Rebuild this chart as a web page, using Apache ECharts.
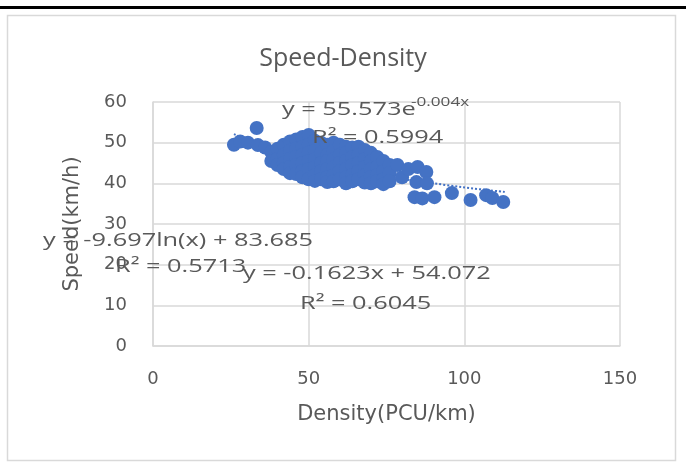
<!DOCTYPE html>
<html>
<head>
<meta charset="utf-8">
<script src="https://cdn.jsdelivr.net/npm/echarts@6/dist/echarts.min.js"></script>
<style>
  html, body { margin: 0; padding: 0; background: #fff; }
  #chart { width: 686px; height: 462px; }
</style>
</head>
<body>
<div id="chart"></div>
<script>
// scatter points: density (PCU/km) and speed (km/h), paired by index
const density = [
  26, 28, 30.5, 33.3, 33.7, 36,
  38, 38,
  40, 40, 40,
  42, 42, 42, 42,
  44, 44, 44, 44, 44,
  46, 46, 46, 46, 46,
  48, 48, 48, 48, 48, 48,
  50, 50, 50, 50, 50, 50,
  52, 52, 52, 52, 52, 52,
  54, 54, 54, 54, 54,
  56, 56, 56, 56, 56, 56,
  58, 58, 58, 58, 58, 58,
  60, 60, 60, 60, 60,
  62, 62, 62, 62, 62, 62,
  64, 64, 64, 64, 64,
  66, 66, 66, 66, 66,
  68, 68, 68, 68, 68,
  70, 70, 70, 70, 70,
  72, 72, 72, 72,
  74, 74, 74, 74,
  76, 76, 76,
  78.5, 80, 82, 85, 87.8, 84.6, 88,
  84, 86.5, 90.4, 96, 102, 107, 109, 112.5
];
const speed = [
  49.5, 50.3, 50, 53.6, 49.4, 48.8,
  47.7, 45.5,
  48.5, 46, 44.5,
  49.5, 47, 45, 43.5,
  50.3, 48, 46, 44, 42.5,
  50.8, 48.5, 46.5, 44.5, 42.3,
  51.4, 49, 47, 45, 43, 41.5,
  51.9, 49.5, 47.5, 45.5, 43.5, 41,
  50.5, 48, 46, 44, 42, 40.6,
  50, 47.5, 45, 43, 41,
  49.5, 47, 45.5, 43.5, 41.5, 40.3,
  50, 48, 46, 44, 42, 40.5,
  49.5, 47, 45, 43, 41,
  49, 47.5, 45.5, 43.5, 41.5, 40,
  48.8, 46.5, 44.5, 42, 40.5,
  49, 47, 45, 43, 41,
  48.2, 46, 44, 42, 40.2,
  47.5, 45.5, 43.5, 41.5, 40,
  46.5, 44, 42, 40.5,
  45.5, 43, 41, 39.8,
  44.5, 42.5, 40.5,
  44.5, 41.5, 43.5, 44, 42.8, 40.3, 40,
  36.6, 36.3, 36.6, 37.6, 35.9, 37.1, 36.4, 35.4
];

// dotted trendline as it shows at the ends of the cloud
const trendX = [26, 45, 70, 93, 113];
const trendY = [52.1, 46.8, 42.5, 39.7, 37.9];

const xTicks = [0, 50, 100, 150];
const yTicks = [0, 10, 20, 30, 40, 50, 60];

const trendLabels = [
  'y = 55.573e', '-0.004x', 'R² = 0.5994',
  'y = -9.697ln(x) + 83.685', 'R² = 0.5713',
  'y = -0.1623x + 54.072', 'R² = 0.6045'
];

const grey = '#595959';
const gridGrey = '#d9d9d9';
const blue = '#4472C4';

const chart = echarts.init(document.getElementById('chart'));

function note(text, x, y, size) {
  return {
    type: 'text',
    x: x,
    y: y,
    scaleX: 1.37,
    z: 10,
    style: {
      text: text,
      x: 0,
      y: 0,
      fill: grey,
      font: (size || 18.5) + 'px "Open Sans"',
      verticalAlign: 'middle'
    }
  };
}

const option = {
  animation: false,
  backgroundColor: '#fff',
  title: {
    text: 'Speed-Density',
    left: 'center',
    top: 41,
    textStyle: {
      color: grey,
      fontFamily: 'Open Sans',
      fontWeight: 'normal',
      fontSize: 25
    }
  },
  grid: {
    left: 153,
    right: 66,
    top: 102,
    bottom: 116,
    outerBoundsMode: 'none'
  },
  xAxis: {
    type: 'value',
    min: xTicks[0],
    max: xTicks[xTicks.length - 1],
    interval: 50,
    name: 'Density(PCU/km)',
    nameLocation: 'middle',
    nameGap: 58,
    nameTextStyle: { color: grey, fontFamily: 'DejaVu Sans', fontSize: 21 },
    axisLine: { show: true, lineStyle: { color: gridGrey, width: 1.5 } },
    axisTick: { show: false },
    axisLabel: { color: grey, fontFamily: 'DejaVu Sans', fontSize: 18, margin: 24 },
    splitLine: { show: true, lineStyle: { color: gridGrey, width: 1.5 } }
  },
  yAxis: {
    type: 'value',
    min: yTicks[0],
    max: yTicks[yTicks.length - 1],
    interval: 10,
    name: 'Speed(km/h)',
    nameLocation: 'middle',
    nameGap: 70,
    nameTextStyle: { color: grey, fontFamily: 'DejaVu Sans', fontSize: 21 },
    axisLine: { show: true, lineStyle: { color: gridGrey, width: 1.5 } },
    axisTick: { show: false },
    axisLabel: { color: grey, fontFamily: 'DejaVu Sans', fontSize: 18, margin: 26 },
    splitLine: { show: true, lineStyle: { color: gridGrey, width: 1.5 } }
  },
  series: [
    {
      type: 'line',
      data: trendX.map((x, i) => [x, trendY[i]]),
      smooth: true,
      symbol: 'none',
      z: 1,
      lineStyle: { color: blue, width: 2, type: 'dotted' }
    },
    {
      type: 'scatter',
      data: density.map((x, i) => [x, speed[i]]),
      symbolSize: 14,
      z: 2,
      itemStyle: { color: blue, opacity: 1 }
    }
  ],
  graphic: [
    { type: 'rect', shape: { x: 0, y: 6, width: 686, height: 3 }, style: { fill: '#000' } },
    { type: 'rect', shape: { x: 7.5, y: 15.5, width: 668, height: 445 },
      style: { fill: 'none', stroke: gridGrey, lineWidth: 1.5 } },
    note(trendLabels[0], 282, 110),
    note(trendLabels[1], 411, 102, 12.5),
    note(trendLabels[2], 312, 138),
    note(trendLabels[3], 43, 241),
    note(trendLabels[4], 115, 267),
    note(trendLabels[5], 243, 274),
    note(trendLabels[6], 300, 304)
  ]
};

chart.setOption(option);

window.addEventListener('resize', () => {
  chart.resize();
});
</script>
</body>
</html>
